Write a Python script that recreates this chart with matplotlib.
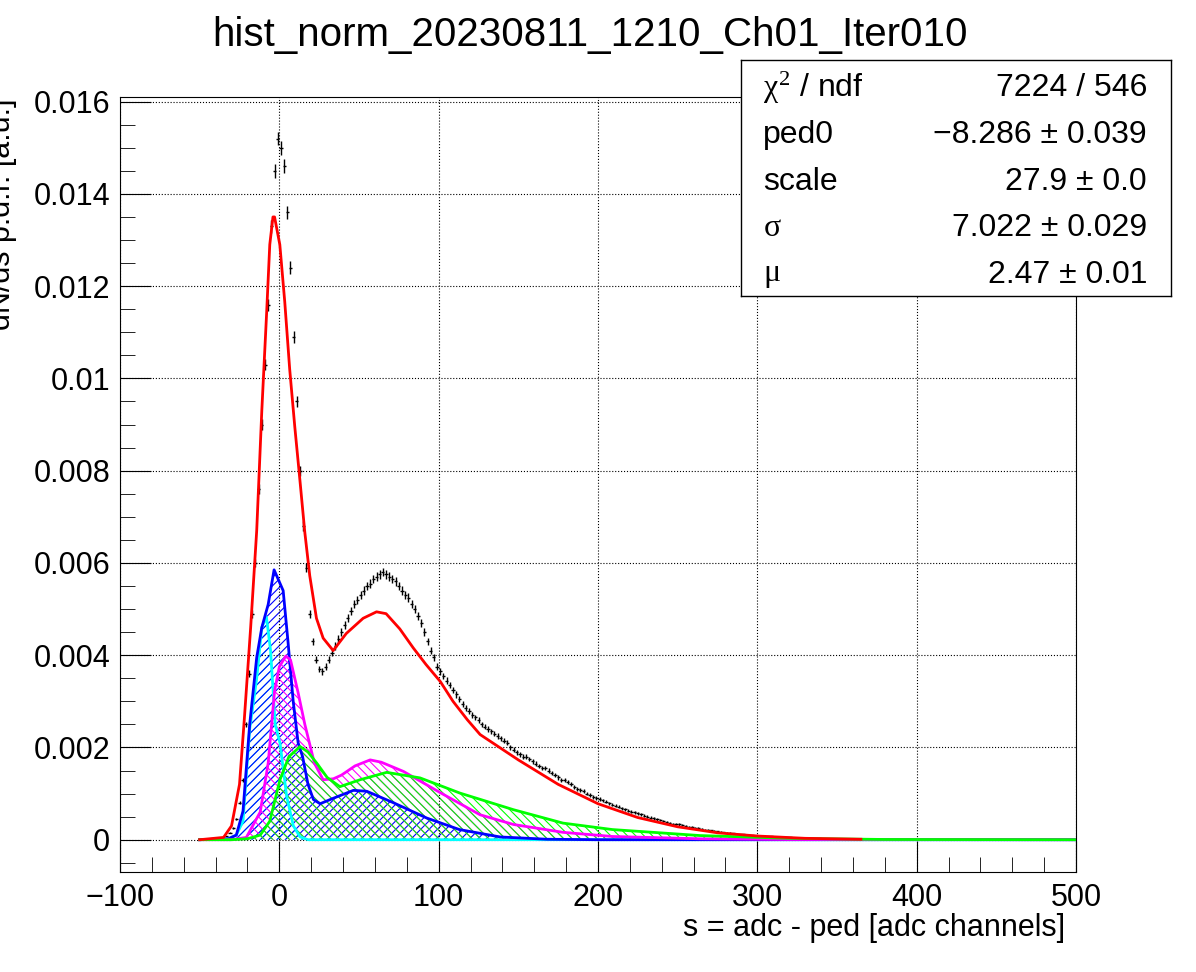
import numpy as np
import matplotlib
matplotlib.use("Agg")
import matplotlib.pyplot as plt
from matplotlib.ticker import MultipleLocator, FuncFormatter

plt.rcParams['font.family'] = ['Liberation Sans', 'DejaVu Sans']
plt.rcParams['hatch.linewidth'] = 0.8
plt.rcParams['mathtext.fontset'] = 'custom'
plt.rcParams['mathtext.rm'] = 'Liberation Serif'
plt.rcParams['mathtext.it'] = 'Liberation Serif'

title = "hist_norm_20230811_1210_Ch01_Iter010"
xlabel = "s = adc - ped [adc channels]"
ylabel = "dN/ds p.d.f. [a.u.]"

# histogram: bins of width 2 from -40 to 360, values in units of 1e-3
bin_edges_range = (-40, 360)
hist_vals = [
    0.0, 0.01, 0.03, 0.08, 0.15, 0.25, 0.45, 0.8, 1.3, 2.5,
    3.6, 4.9, 6.0, 7.6, 9.0, 10.3, 11.6, 13.3, 14.5, 15.2,
    15.0, 14.6, 13.6, 12.4, 10.9, 9.5, 8.0, 6.8, 5.9, 4.9,
    4.3, 3.9, 3.7, 3.65, 3.75, 3.9, 4.05, 4.2, 4.35, 4.5,
    4.65, 4.8, 4.95, 5.1, 5.2, 5.3, 5.4, 5.5, 5.55, 5.65,
    5.7, 5.75, 5.8, 5.75, 5.7, 5.65, 5.6, 5.5, 5.4, 5.3,
    5.25, 5.1, 5.0, 4.85, 4.7, 4.5, 4.3, 4.1, 3.95, 3.75,
    3.65, 3.55, 3.45, 3.35, 3.25, 3.15, 3.05, 2.95, 2.85, 2.8,
    2.7, 2.65, 2.6, 2.5, 2.45, 2.4, 2.35, 2.3, 2.25, 2.2,
    2.15, 2.1, 2.0, 1.95, 1.9, 1.85, 1.8, 1.8, 1.75, 1.7,
    1.65, 1.6, 1.55, 1.55, 1.5, 1.45, 1.4, 1.35, 1.3, 1.3,
    1.25, 1.2, 1.15, 1.1, 1.08, 1.05, 1.0, 0.97, 0.93, 0.9,
    0.88, 0.85, 0.82, 0.79, 0.76, 0.74, 0.71, 0.68, 0.66, 0.63,
    0.61, 0.59, 0.57, 0.55, 0.52, 0.5, 0.48, 0.46, 0.44, 0.42,
    0.40, 0.39, 0.37, 0.35, 0.34, 0.33, 0.31, 0.30, 0.28, 0.27,
    0.26, 0.25, 0.23, 0.22, 0.21, 0.20, 0.19, 0.18, 0.17, 0.16,
    0.15, 0.15, 0.14, 0.13, 0.12, 0.12, 0.11, 0.10, 0.10, 0.09,
    0.09, 0.08, 0.08, 0.07, 0.07, 0.06, 0.06, 0.06, 0.05, 0.05,
    0.05, 0.04, 0.04, 0.04, 0.04, 0.03, 0.03, 0.03, 0.03, 0.03,
    0.02, 0.02, 0.02, 0.02, 0.02, 0.01, 0.01, 0.01, 0.01, 0.01,
]

# fit components (x, y in units of 1e-3)
red_x = [-50, -35, -30, -25, -22, -18, -14.2, -11, -8, -6, -4, -3, 0.3, 3.4, 6.5, 9.7, 12.9, 16, 19.1,
         23.3, 27.5, 33.8, 42, 52.6, 61, 67, 75.6, 84, 92, 101, 109, 118, 126, 150, 175, 200, 225,
         250, 275, 300, 330, 365]
red_y = [0, 0.05, 0.3, 1.2, 2.6, 4.6, 6.7, 9.3, 11.4, 12.9, 13.5, 13.5, 12.9, 11.66, 10.2, 8.95, 7.8,
         6.66, 5.72, 4.8, 4.37, 4.1, 4.47, 4.8, 4.94, 4.9, 4.57, 4.16, 3.8, 3.43, 3.0, 2.6, 2.28,
         1.73, 1.2, 0.78, 0.48, 0.28, 0.15, 0.08, 0.03, 0.01]
blue_x = [-50, -32, -27, -22.8, -18.6, -14.2, -11, -7, -3.3, 2.4, 5.5, 8.7, 11.8, 14.6, 18, 21.4,
          25.6, 34, 46.5, 54.9, 71.7, 92.5, 113, 138.5, 168, 200, 500]
blue_y = [0, 0.02, 0.1, 0.62, 2.5, 3.95, 4.6, 5.1, 5.85, 5.4, 4.27, 3.0, 2.1, 1.8, 1.2, 0.87,
          0.78, 0.9, 1.07, 1.05, 0.8, 0.47, 0.22, 0.06, 0.01, 0, 0]
cyan_x = [-50, -32, -27, -22.8, -18.6, -14.2, -11, -8.1, -5.5, -2.6, 0.4, 4.6, 8.8, 13, 18, 500]
cyan_y = [0, 0.02, 0.1, 0.4, 2.4, 3.5, 4.6, 4.83, 4.1, 2.5, 2.1, 0.94, 0.3, 0.06, 0, 0]
magenta_x = [-50, -30, -20.7, -12, -7, -3, 0, 4, 7, 11.7, 16, 22, 27.5, 33.9, 39, 47.5, 57, 64,
             77.9, 101, 126, 147, 178, 209, 264, 320, 500]
magenta_y = [0, 0, 0.05, 0.6, 1.66, 3.22, 3.75, 3.98, 3.9, 3.2, 2.5, 1.66, 1.3, 1.32, 1.4, 1.6,
             1.73, 1.68, 1.48, 1.02, 0.54, 0.33, 0.16, 0.07, 0.02, 0.005, 0]
green_x = [-50, -30, -20, -12, -6, 0.4, 6, 13, 18, 23.5, 30, 38, 50.7, 67.4, 88.3, 113.4, 147,
           178, 209, 264, 320, 380, 500]
green_y = [0, 0, 0.02, 0.1, 0.4, 1.3, 1.8, 2.02, 1.9, 1.66, 1.35, 1.15, 1.3, 1.46, 1.34, 1.01,
           0.65, 0.36, 0.22, 0.09, 0.03, 0.005, 0]

stats_labels = [r"$\chi^{2}$ / ndf", "ped0", "scale", r"$\sigma$", r"$\mu$"]
stats_values = ["7224 / 546", "−8.286 ± 0.039", "27.9 ± 0.0", "7.022 ± 0.029", "2.47 ± 0.01"]

fig = plt.figure(figsize=(11.96, 9.72), dpi=100)
ax = fig.add_axes([120/1196, 1-872/972, 956/1196, 775/972])

vals = np.array(hist_vals) * 1e-3
edges = np.arange(bin_edges_range[0], bin_edges_range[1] + 1, 2)
centers = 0.5 * (edges[:-1] + edges[1:])
errs = np.sqrt(vals * 1.5e-6)
mask = vals > 0
ax.errorbar(centers[mask], vals[mask], yerr=errs[mask], xerr=1.0, fmt='none',
            ecolor='black', elinewidth=1.0, zorder=3)

def comp(xs, ys, color, hatch):
    xs = np.array(xs); ys = np.array(ys) * 1e-3
    if hatch:
        ax.fill_between(xs, 0, ys, facecolor='none', edgecolor=color, hatch=hatch,
                        linewidth=0, zorder=1)
    ax.plot(xs, ys, color=color, lw=2, zorder=4)

comp(cyan_x, cyan_y, '#00ffff', '////')
comp(blue_x, blue_y, '#0000ff', '////')
comp(magenta_x, magenta_y, '#ff00ff', '\\\\\\\\')
comp(green_x, green_y, '#00ff00', '\\\\\\\\')
comp(red_x, red_y, '#ff0000', None)

ax.set_xlim(-100, 500)
ax.set_ylim(-0.0007, 0.0161)
ax.xaxis.set_major_locator(MultipleLocator(100))
ax.xaxis.set_minor_locator(MultipleLocator(20))
ax.yaxis.set_major_locator(MultipleLocator(0.002))
ax.yaxis.set_minor_locator(MultipleLocator(0.0005))
ax.yaxis.set_major_formatter(FuncFormatter(lambda v, p: "0" if abs(v) < 1e-12 else f"{v:g}"))
ax.xaxis.set_major_formatter(FuncFormatter(lambda v, p: f"{v:g}".replace('-', '−')))
ax.tick_params(which='both', direction='in', top=False, right=False, labelsize=22)
ax.tick_params(which='major', length=22, pad=7)
ax.tick_params(which='minor', length=11)
ax.tick_params(axis='x', which='major', pad=8)
ax.grid(True, which='major', color='black', linestyle=':', linewidth=0.8)

fig.text(0.493, 1-35/972, title, ha='center', va='center', fontsize=29)
fig.text(1065/1196, 1-928/972, xlabel, ha='right', va='center', fontsize=22)
fig.text(0.002, 1-98/972, ylabel, rotation=90, ha='center', va='top', fontsize=22)

# stats box
box = fig.add_axes([741/1196, 1-296/972, 430/1196, 236/972])
box.set_xticks([]); box.set_yticks([])
box.set_xlim(0, 1); box.set_ylim(0, 1)
for s in box.spines.values():
    s.set_linewidth(1)
ys = [88, 135, 182, 228, 275]
for lab, val, y in zip(stats_labels, stats_values, ys):
    yy = 1 - (y - 60) / 236
    box.text(22/430, yy, lab, ha='left', va='center', fontsize=23)
    box.text(406/430, yy, val, ha='right', va='center', fontsize=23)

fig.savefig("out.png", dpi=100)
